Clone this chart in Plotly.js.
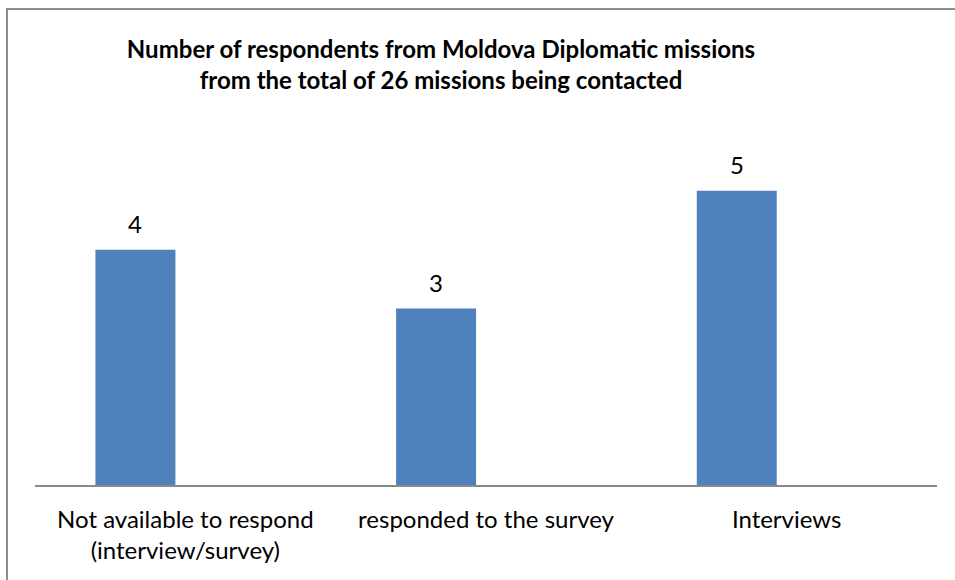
<!DOCTYPE html>
<html>
<head>
<meta charset="utf-8">
<script src="https://cdn.plot.ly/plotly-3.0.1.min.js"></script>
<style>
html,body{margin:0;padding:0;background:#fff;overflow:hidden;}
#wrap{position:relative;width:955px;height:580px;overflow:hidden;}
#chart{width:955px;height:580px;}
#frame{position:absolute;left:6px;top:8px;width:3000px;height:3000px;border:2px solid #8c8c8c;pointer-events:none;box-sizing:border-box;}
</style>
</head>
<body>
<div id="wrap">
<div id="chart"></div>
<div id="frame"></div>
</div>
<script>
const categories = ["Not available to respond<br>(interview/survey)", "responded to the survey", "Interviews"];
const values = [4, 3, 5];
const titleText = "Number of respondents from Moldova Diplomatic missions<br>from the total of 26 missions being contacted";

const FONT = "Lato, 'Open Sans', sans-serif";

const trace = {
  type: "bar",
  x: categories,
  y: values,
  width: 0.266,
  offset: -0.299,
  marker: {color: "#4F81BD", line: {width: 0}},
  hoverinfo: "none"
};

const annotations = categories.map((c, i) => ({
  x: c, y: values[i], xref: "x", yref: "y",
  text: String(values[i]), showarrow: false,
  xshift: -50, yshift: 10, yanchor: "bottom",
  font: {family: FONT, size: 24, color: "#000"}
}));

const layout = {
  width: 955, height: 580,
  margin: {l: 35, r: 18, t: 132, b: 95, pad: 0},
  paper_bgcolor: "#fff", plot_bgcolor: "#fff",
  font: {family: FONT, size: 24, color: "#000"},
  title: {
    text: "<b>" + titleText + "</b>",
    font: {family: FONT, size: 24, color: "#000"},
    x: 441/955, xanchor: "center", xref: "container",
    y: 1 - 58/580, yanchor: "top", yref: "container"
  },
  xaxis: {
    type: "category",
    showline: true, linecolor: "#898989", linewidth: 2,
    ticks: "", showgrid: false, zeroline: false,
    tickfont: {family: FONT, size: 24, color: "#000"},
    ticklabelstandoff: 12
  },
  yaxis: {
    range: [0, 6], visible: false, showgrid: false, zeroline: false
  },
  showlegend: false,
  annotations: annotations
};

Plotly.newPlot("chart", [trace], layout, {displayModeBar: false, staticPlot: true});
</script>
</body>
</html>
